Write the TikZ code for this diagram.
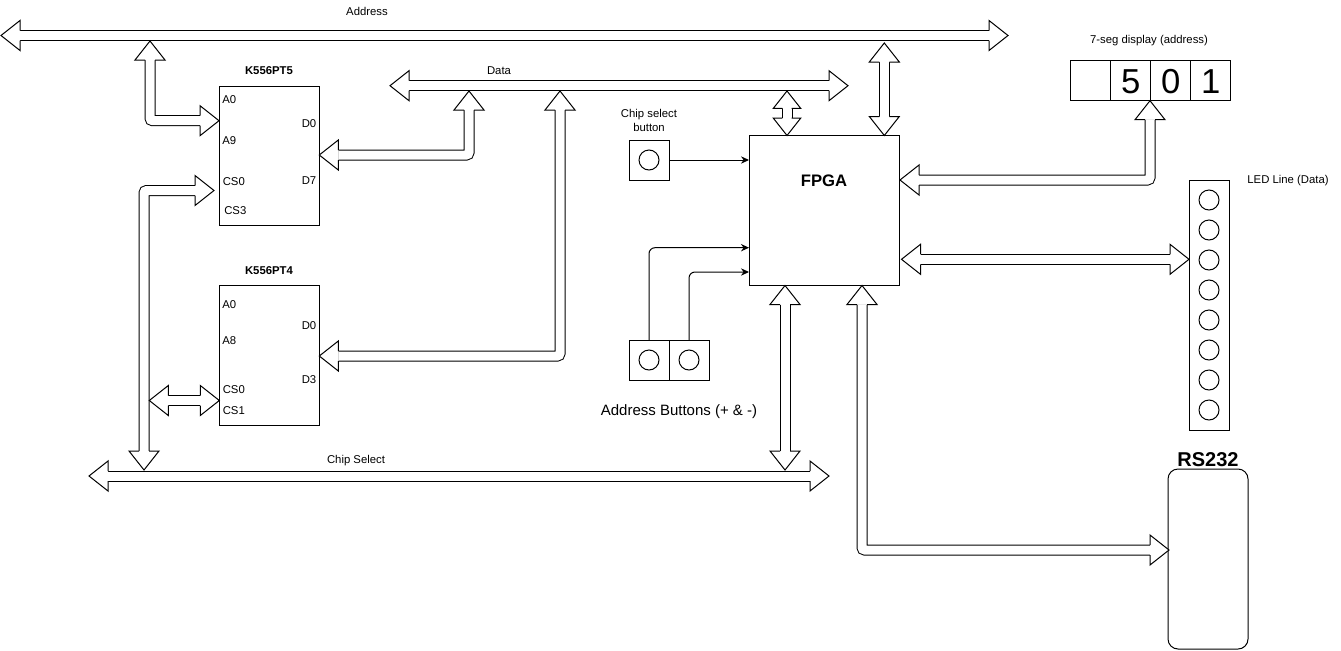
\documentclass[tikz,border=0pt]{standalone}
\usepackage{fontspec}
\setmainfont{Liberation Sans}
\usetikzlibrary{arrows.meta}
\tikzset{
  head/.pic={
    \fill[white] (0,0)--(-19,-15)--(-19,15)--cycle;
    \draw[line width=0.75pt, line join=miter] (-19,-5)--(-19,-15)--(0,0)--(-19,15)--(-19,5);
  },
  bus/.style={draw=black, line width=0.75pt, double=white, double distance=6.75pt, rounded corners=2pt},
  both/.style={shorten <=14.25pt, shorten >=14.25pt},
  box/.style={draw, line width=0.75pt, inner sep=0pt, outer sep=0pt, anchor=north west},
  led/.style={draw, circle, line width=0.75pt, minimum size=15pt, inner sep=0pt},
  small/.style={font=\fontsize{8.5}{10.5}\selectfont, inner sep=0pt},
  title/.style={font=\fontsize{8.5}{10.5}\selectfont\bfseries, inner sep=0pt},
  thin/.style={line width=0.75pt, rounded corners=4.5pt, -{Stealth[length=6pt,width=5.5pt]}},
}
\begin{document}
\begin{tikzpicture}[x=0.75pt,y=-0.75pt]
\useasboundingbox (0,0) rectangle (1341,650);

% ---------- boxes ----------
\node[box, minimum width=75pt, minimum height=104.25pt] (pt5) at (219,86) {};
\node[box, minimum width=75pt, minimum height=105pt] (pt4) at (219,285) {};
\node[box, minimum width=112.5pt, minimum height=112.5pt] (fpga) at (749,135) {};
\node[box, minimum width=30pt, minimum height=30pt] (csb) at (629,140) {};
\node[box, minimum width=30pt, minimum height=30pt] (ab1) at (629,340) {};
\node[box, minimum width=30pt, minimum height=30pt] (ab2) at (669,340) {};
\node[box, minimum width=30pt, minimum height=187.5pt] (ledbar) at (1189,180) {};
\node[box, minimum width=60pt, minimum height=135pt, rounded corners=7.5pt] (rs) at (1168,469) {};
\node[box, minimum width=30pt, minimum height=30pt] (seg1) at (1070.7,60.7) {};
\node[box, minimum width=30pt, minimum height=30pt, font=\fontsize{26}{26}\selectfont] (seg2) at (1110.7,60.7) {};
\node[box, minimum width=30pt, minimum height=30pt] (seg3) at (1150.7,60.7) {};
\node[box, minimum width=30pt, minimum height=30pt] (seg4) at (1190.7,60.7) {};
\node[font=\fontsize{26}{26}\selectfont, inner sep=0pt] (d5) at (1130.7,81.5) {5};
\node[font=\fontsize{26}{26}\selectfont, inner sep=0pt] (d0) at (1170.7,81.5) {0};
\node[font=\fontsize{26}{26}\selectfont, inner sep=0pt] (d1) at (1210.7,81.5) {1};

% buttons and LEDs
\node[led] (csc) at (649,160) {};
\node[led] (ac1) at (649,360) {};
\node[led] (ac2) at (689,360) {};
\foreach \i in {0,...,7} { \node[led] (l\i) at (1209,200+30*\i) {}; }

% ---------- texts ----------
\node[small] (taddr) at (367,11) {Address};
\node[small] (tdata) at (499,71) {Data};
\node[small] (tcs) at (356,461) {Chip Select};
\node[title] (t5) at (269,71) {K556PT5};
\node[title] (t4) at (269,271) {K556PT4};
\node[small, align=center] (tcsb) at (649,120.5) {Chip select\\button};
\node[font=\fontsize{12.5}{14}\selectfont\bfseries, inner sep=0pt] (tf) at (824,181) {FPGA};
\node[small] (tseg) at (1149,41) {7-seg display (address)};
\node[small] (tled) at (1288,181) {LED Line (Data)};
\node[font=\fontsize{15}{17}\selectfont\bfseries, inner sep=0pt] (trs) at (1208,460) {RS232};
\node[font=\fontsize{11.25}{13}\selectfont, inner sep=0pt] (tab) at (679,412) {Address Buttons (+ \& -)};

\node[small, anchor=west] at (222,100) {A0};
\node[small, anchor=west] at (222,141) {A9};
\node[small, anchor=west] at (222.5,181.5) {CS0};
\node[small, anchor=west] at (224,211) {CS3};
\node[small, anchor=east] at (316.5,124) {D0};
\node[small, anchor=east] at (316.5,181) {D7};

\node[small, anchor=west] at (222,305) {A0};
\node[small, anchor=west] at (222,341) {A8};
\node[small, anchor=west] at (222.5,390) {CS0};
\node[small, anchor=west] at (222.5,411) {CS1};
\node[small, anchor=east] at (316.5,326) {D0};
\node[small, anchor=east] at (316.5,380) {D3};

% ---------- bus end points ----------
\coordinate (aL) at (1,35.5);   \coordinate (aR) at (1008,35.5);
\coordinate (a5t) at (150,41);  \coordinate (a5r) at (219,120.7);
\coordinate (c5b) at (144,470); \coordinate (c5r) at (214,190.5);
\coordinate (cL) at (89,476);   \coordinate (cR) at (829,476);
\coordinate (c4l) at (149.3,400.5); \coordinate (c4r) at (219.3,400.5);
\coordinate (dL) at (390,85.7); \coordinate (dR) at (848,85.7);
\coordinate (d5t) at (469,91);  \coordinate (d5l) at (319.3,155);
\coordinate (d4t) at (560,91);  \coordinate (d4l) at (319.3,356);
\coordinate (dft) at (787,91);  \coordinate (dfb) at (787,135.5);
\coordinate (aft) at (884.3,43); \coordinate (afb) at (884.3,135.5);
\coordinate (st) at (1150,100.7); \coordinate (sl) at (900,180);
\coordinate (ll) at (901.5,259.3); \coordinate (lr) at (1189,259.3);
\coordinate (fct) at (785,285.5); \coordinate (fcb) at (785,470);
\coordinate (frt) at (862,285.5); \coordinate (frr) at (1169,550);

% ---------- buses (flat arrows) ----------
\draw[bus, both] (aL) -- (aR);
\pic[rotate=180] at (aL) {head}; \pic at (aR) {head};

\draw[bus, both] (a5t) |- (a5r);
\pic[rotate=90] at (a5t) {head}; \pic at (a5r) {head};

\draw[bus, both] (c5b) |- (c5r);
\pic[rotate=-90] at (c5b) {head}; \pic at (c5r) {head};

\draw[bus, both] (cL) -- (cR);
\pic[rotate=180] at (cL) {head}; \pic at (cR) {head};

\draw[bus, both] (c4l) -- (c4r);
\pic[rotate=180] at (c4l) {head}; \pic at (c4r) {head};

\draw[bus, both] (dL) -- (dR);
\pic[rotate=180] at (dL) {head}; \pic at (dR) {head};

\draw[bus, both] (d5t) |- (d5l);
\pic[rotate=90] at (d5t) {head}; \pic[rotate=180] at (d5l) {head};

\draw[bus, both] (d4t) |- (d4l);
\pic[rotate=90] at (d4t) {head}; \pic[rotate=180] at (d4l) {head};

\draw[bus, shorten <=13pt, shorten >=13pt] (dft) -- (dfb);
\pic[rotate=90, scale=0.92] at (dft) {head}; \pic[rotate=-90, scale=0.92] at (dfb) {head};

\draw[bus, both] (aft) -- (afb);
\pic[rotate=90] at (aft) {head}; \pic[rotate=-90] at (afb) {head};

\draw[bus, both] (st) |- (sl);
\pic[rotate=90] at (st) {head}; \pic[rotate=180] at (sl) {head};

\draw[bus, both] (ll) -- (lr);
\pic[rotate=180] at (ll) {head}; \pic at (lr) {head};

\draw[bus, both] (fct) -- (fcb);
\pic[rotate=90] at (fct) {head}; \pic[rotate=-90] at (fcb) {head};

\draw[bus, both] (frt) |- (frr);
\pic[rotate=90] at (frt) {head}; \pic at (frr) {head};

% ---------- thin signal arrows ----------
\draw[thin] (csb.east) -- (csb.east -| fpga.west);
\draw[thin] (ab1.north) |- (749,247.7);
\draw[thin] (ab2.north) |- (749,272);

\end{tikzpicture}
\end{document}
